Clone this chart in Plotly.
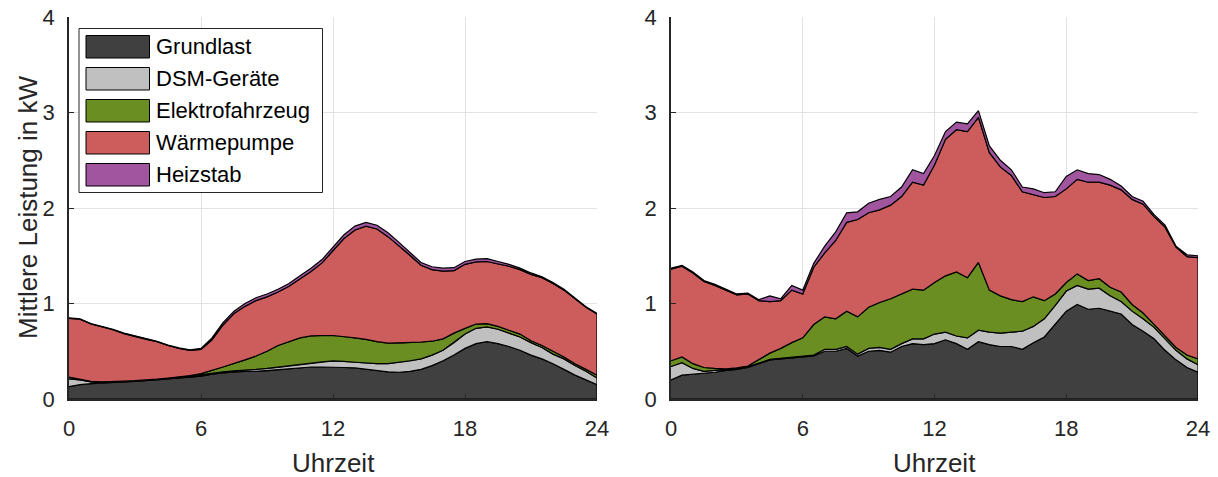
import plotly.graph_objects as go

# ---------------- data ----------------
HOURS = [0, 0.5, 1, 1.5, 2, 2.5, 3, 3.5, 4, 4.5, 5, 5.5, 6, 6.5, 7, 7.5, 8, 8.5,
         9, 9.5, 10, 10.5, 11, 11.5, 12, 12.5, 13, 13.5, 14, 14.5, 15, 15.5, 16,
         16.5, 17, 17.5, 18, 18.5, 19, 19.5, 20, 20.5, 21, 21.5, 22, 22.5, 23,
         23.5, 24]

SERIES = ["Grundlast", "DSM-Geräte", "Elektrofahrzeug", "Wärmepumpe", "Heizstab"]
COLORS = ["#404040", "#c0c0c0", "#6b8e23", "#cd5c5c", "#a0559e"]

X_TICKS = [0, 6, 12, 18, 24]
Y_TICKS = [0, 1, 2, 3, 4]
X_TITLE = "Uhrzeit"
Y_TITLE = "Mittlere Leistung in kW"

# cumulative upper boundary of each stacked layer (kW), left panel
L_GRUND = [0.13, 0.15, 0.16, 0.17, 0.175, 0.18, 0.185, 0.19, 0.20, 0.21, 0.22, 0.23,
           0.24, 0.26, 0.275, 0.285, 0.29, 0.29, 0.295, 0.305, 0.315, 0.325, 0.335,
           0.335, 0.335, 0.33, 0.325, 0.315, 0.30, 0.285, 0.28, 0.29, 0.31, 0.35,
           0.40, 0.46, 0.53, 0.58, 0.60, 0.58, 0.55, 0.51, 0.46, 0.42, 0.37, 0.31,
           0.25, 0.20, 0.15]
L_DSM = [0.21, 0.20, 0.18, 0.175, 0.18, 0.185, 0.19, 0.195, 0.205, 0.215, 0.225,
         0.235, 0.25, 0.27, 0.285, 0.295, 0.305, 0.31, 0.32, 0.33, 0.345, 0.36,
         0.375, 0.39, 0.40, 0.395, 0.385, 0.375, 0.37, 0.37, 0.385, 0.40, 0.42,
         0.46, 0.51, 0.59, 0.68, 0.74, 0.755, 0.73, 0.69, 0.65, 0.59, 0.54, 0.47,
         0.42, 0.35, 0.29, 0.22]
L_EV = [0.23, 0.21, 0.185, 0.18, 0.182, 0.187, 0.192, 0.198, 0.208, 0.22, 0.23,
        0.245, 0.265, 0.30, 0.335, 0.37, 0.41, 0.45, 0.50, 0.56, 0.60, 0.64, 0.66,
        0.665, 0.665, 0.655, 0.64, 0.625, 0.60, 0.585, 0.585, 0.59, 0.595, 0.605,
        0.63, 0.69, 0.74, 0.785, 0.79, 0.76, 0.72, 0.68, 0.61, 0.56, 0.50, 0.44,
        0.37, 0.31, 0.25]
L_WP = [0.845, 0.835, 0.785, 0.755, 0.725, 0.685, 0.655, 0.625, 0.60, 0.56, 0.53,
        0.51, 0.52, 0.62, 0.775, 0.895, 0.97, 1.03, 1.07, 1.12, 1.18, 1.26, 1.335,
        1.425, 1.555, 1.68, 1.77, 1.81, 1.78, 1.70, 1.605, 1.505, 1.40, 1.355,
        1.34, 1.345, 1.41, 1.435, 1.44, 1.415, 1.39, 1.355, 1.305, 1.27, 1.21,
        1.14, 1.05, 0.96, 0.89]
L_HEIZ = [0.85, 0.84, 0.79, 0.76, 0.73, 0.69, 0.66, 0.63, 0.605, 0.565, 0.535,
          0.515, 0.53, 0.64, 0.80, 0.92, 1.00, 1.06, 1.10, 1.15, 1.21, 1.29, 1.37,
          1.46, 1.59, 1.72, 1.81, 1.85, 1.82, 1.74, 1.64, 1.54, 1.43, 1.385, 1.37,
          1.375, 1.44, 1.465, 1.47, 1.44, 1.41, 1.37, 1.32, 1.28, 1.22, 1.15,
          1.055, 0.965, 0.895]

# cumulative upper boundary of each stacked layer (kW), right panel
R_GRUND = [0.20, 0.25, 0.26, 0.27, 0.28, 0.30, 0.31, 0.33, 0.37, 0.41, 0.42, 0.43,
           0.44, 0.45, 0.50, 0.50, 0.53, 0.45, 0.50, 0.51, 0.49, 0.55, 0.58, 0.57,
           0.58, 0.62, 0.58, 0.52, 0.60, 0.57, 0.55, 0.55, 0.52, 0.59, 0.65, 0.78,
           0.92, 0.99, 0.94, 0.95, 0.92, 0.89, 0.78, 0.71, 0.63, 0.51, 0.41, 0.33,
           0.28]
R_DSM = [0.34, 0.38, 0.32, 0.29, 0.30, 0.31, 0.32, 0.34, 0.375, 0.415, 0.43, 0.44,
         0.45, 0.46, 0.52, 0.52, 0.55, 0.47, 0.53, 0.54, 0.52, 0.58, 0.63, 0.63,
         0.68, 0.70, 0.66, 0.64, 0.72, 0.70, 0.69, 0.70, 0.71, 0.76, 0.84, 0.98,
         1.13, 1.19, 1.15, 1.16, 1.08, 1.02, 0.92, 0.84, 0.75, 0.63, 0.51, 0.42,
         0.36]
R_EV = [0.40, 0.44, 0.37, 0.33, 0.32, 0.315, 0.325, 0.345, 0.41, 0.48, 0.53, 0.59,
        0.64, 0.78, 0.86, 0.84, 0.92, 0.86, 0.96, 1.01, 1.05, 1.10, 1.15, 1.14,
        1.22, 1.29, 1.33, 1.27, 1.43, 1.14, 1.08, 1.04, 1.02, 1.07, 1.03, 1.10,
        1.22, 1.31, 1.24, 1.26, 1.17, 1.12, 0.99, 0.90, 0.79, 0.66, 0.54, 0.46,
        0.42]
R_WP = [1.36, 1.39, 1.32, 1.23, 1.19, 1.14, 1.09, 1.10, 1.03, 1.02, 1.03, 1.14,
        1.10, 1.38, 1.53, 1.66, 1.85, 1.88, 1.95, 1.98, 2.03, 2.12, 2.27, 2.24,
        2.45, 2.72, 2.82, 2.80, 2.95, 2.58, 2.43, 2.34, 2.17, 2.14, 2.11, 2.12,
        2.20, 2.30, 2.27, 2.27, 2.24, 2.19, 2.09, 2.04, 1.91, 1.80, 1.59, 1.49,
        1.48]
R_HEIZ = [1.37, 1.40, 1.33, 1.24, 1.20, 1.15, 1.10, 1.11, 1.04, 1.08, 1.05, 1.19,
          1.14, 1.42, 1.60, 1.75, 1.95, 1.96, 2.05, 2.09, 2.12, 2.22, 2.40, 2.36,
          2.55, 2.80, 2.90, 2.88, 3.02, 2.65, 2.50, 2.40, 2.22, 2.20, 2.16, 2.17,
          2.33, 2.40, 2.36, 2.35, 2.30, 2.23, 2.12, 2.07, 1.93, 1.82, 1.60, 1.51,
          1.50]

LEFT_LEVELS = [L_GRUND, L_DSM, L_EV, L_WP, L_HEIZ]
RIGHT_LEVELS = [R_GRUND, R_DSM, R_EV, R_WP, R_HEIZ]

# ---------------- geometry (pixels) ----------------
W, H = 1218, 477
PL, PT, PR, PB = 69, 17, 1198, 399           # overall plot area
LEFT_X1, RIGHT_X0 = 597, 671                 # panel edges
PW, PH = PR - PL, PB - PT

def px(x):
    return (x - PL) / PW

def py(y):
    return (PB - y) / PH

FONT = "Liberation Sans, Arial, Helvetica, sans-serif"
AXC = "#262626"

fig = go.Figure()

def add_panel(levels, xa, ya):
    zeros = [0.0] * len(HOURS)
    lower = zeros
    for name, color, upper in zip(SERIES, COLORS, levels):
        xs = list(HOURS) + list(HOURS[::-1])
        ys = list(upper) + list(lower[::-1])
        fig.add_trace(go.Scatter(
            x=xs, y=ys, fill="toself", fillcolor=color, mode="lines",
            line=dict(color="black", width=1.2), name=name, showlegend=False,
            xaxis=xa, yaxis=ya, hoverinfo="skip"))
        lower = upper

add_panel(LEFT_LEVELS, "x", "y")
add_panel(RIGHT_LEVELS, "x2", "y2")

axis_common = dict(
    showline=True, linecolor=AXC, linewidth=1.5, ticks="inside", ticklen=5,
    tickwidth=1, tickcolor=AXC, showgrid=True, gridcolor="#e3e3e3", gridwidth=1,
    zeroline=False, tickfont=dict(family=FONT, size=22, color=AXC),
    automargin=False, layer="above traces")

fig.update_layout(
    width=W, height=H,
    margin=dict(l=PL, r=W - PR, t=PT, b=H - PB, pad=0),
    paper_bgcolor="white", plot_bgcolor="white", showlegend=False,
    xaxis=dict(domain=[0, px(LEFT_X1)], range=[0, 24], tickvals=X_TICKS,
               anchor="y", ticklabelstandoff=9, **axis_common),
    yaxis=dict(domain=[0, 1], range=[0, 4], tickvals=Y_TICKS, anchor="x",
               ticklabelstandoff=8, **axis_common),
    xaxis2=dict(domain=[px(RIGHT_X0), 1], range=[0, 24], tickvals=X_TICKS,
                anchor="y2", ticklabelstandoff=9, **axis_common),
    yaxis2=dict(domain=[0, 1], range=[0, 4], tickvals=Y_TICKS, anchor="x2",
                ticklabelstandoff=8, **axis_common),
)

# axis titles
ann = [
    dict(text=Y_TITLE, x=px(28), y=py(208), xref="paper", yref="paper",
         textangle=-90, showarrow=False, xanchor="center", yanchor="middle",
         font=dict(family=FONT, size=26, color=AXC)),
    dict(text=X_TITLE, x=px((PL + LEFT_X1) / 2), y=py(463), xref="paper",
         yref="paper", showarrow=False, xanchor="center", yanchor="middle",
         font=dict(family=FONT, size=26, color=AXC)),
    dict(text=X_TITLE, x=px((RIGHT_X0 + PR) / 2), y=py(463), xref="paper",
         yref="paper", showarrow=False, xanchor="center", yanchor="middle",
         font=dict(family=FONT, size=26, color=AXC)),
]

# legend (drawn manually to match large swatches)
shapes = [dict(type="rect", xref="paper", yref="paper", x0=px(79), x1=px(322.5),
               y0=py(28.5), y1=py(192.5), fillcolor="white",
               line=dict(color=AXC, width=1), layer="above")]
row_top, row_h, pitch = 35.5, 22.5, 32
for i, (name, color) in enumerate(zip(SERIES, COLORS)):
    t = row_top + i * pitch
    shapes.append(dict(type="rect", xref="paper", yref="paper",
                       x0=px(86), x1=px(149.5), y0=py(t), y1=py(t + row_h),
                       fillcolor=color, line=dict(color="black", width=1),
                       layer="above"))
    ann.append(dict(text=name, x=px(154), y=py(t + row_h / 2), xref="paper",
                    yref="paper", showarrow=False, xanchor="left",
                    yanchor="middle",
                    font=dict(family=FONT, size=22, color="black")))

fig.update_layout(shapes=shapes, annotations=ann)

fig.write_html(
    "out.html",
    config={"displayModeBar": False},
    post_script="document.body.style.margin='0';document.body.style.padding='0';",
)
